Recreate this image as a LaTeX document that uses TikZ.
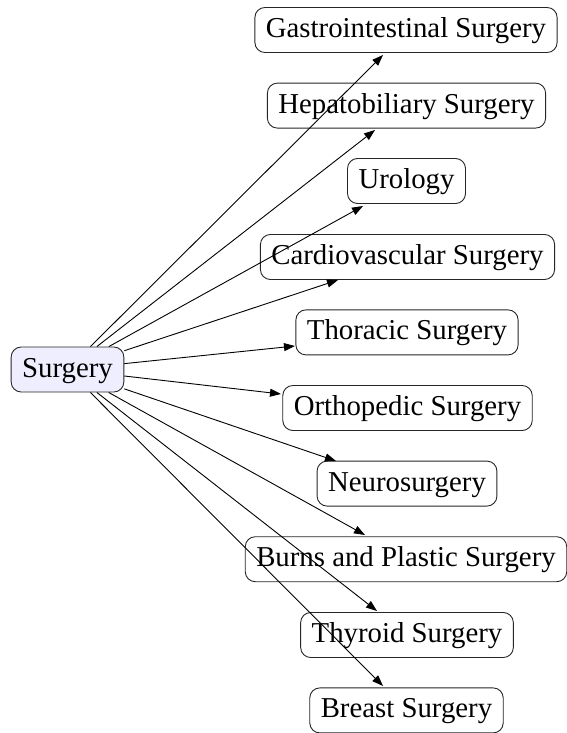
\documentclass[tikz,border=0pt]{standalone}
\usepackage{fontspec}
\setmainfont{Liberation Serif}
\usetikzlibrary{arrows.meta}
\definecolor{rootfill}{RGB}{238,238,255}
\tikzset{
  box/.style={draw=black!85, line width=0.9pt, rounded corners=10pt, fill=white,
    font=\fontsize{28.8}{32}\selectfont, text height=20pt, text depth=5pt,
    inner xsep=11pt, inner ysep=10pt},
  rootbox/.style={box, fill=rootfill},
  conn/.style={line width=0.9pt, -{Triangle[length=11pt,width=8pt]}}
}
\begin{document}
\begin{tikzpicture}[x=1pt,y=-1pt]
\useasboundingbox (0,0) rectangle (566,733);
\node[rootbox] (s) at (67.5,369.5) {Surgery};
\node[box] (g) at (406,30) {Gastrointestinal Surgery};
\node[box] (h) at (406.5,105.6) {Hepatobiliary Surgery};
\node[box] (u) at (406.5,181) {Urology};
\node[box] (c) at (407.5,257) {Cardiovascular Surgery};
\node[box] (t) at (407,332.4) {Thoracic Surgery};
\node[box] (o) at (407.5,408) {Orthopedic Surgery};
\node[box] (n) at (407,483.6) {Neurosurgery};
\node[box] (b) at (406,559.2) {Burns and Plastic Surgery};
\node[box] (ty) at (407,635) {Thyroid Surgery};
\node[box] (br) at (406.5,710.4) {Breast Surgery};
\coordinate (ge) at (383,55);
\coordinate (he) at (375,130);
\coordinate (ue) at (363,206);
\coordinate (ce) at (338,280);
\coordinate (te) at (295,346);
\coordinate (oe) at (281,394);
\coordinate (ne) at (336,461);
\coordinate (be) at (365,535);
\coordinate (tye) at (377,611);
\coordinate (bre) at (383,686);
\foreach \e in {ge,he,ue,ce,te,oe,ne,be,tye,bre}
  \draw[conn] (s) -- (\e);
\end{tikzpicture}
\end{document}
